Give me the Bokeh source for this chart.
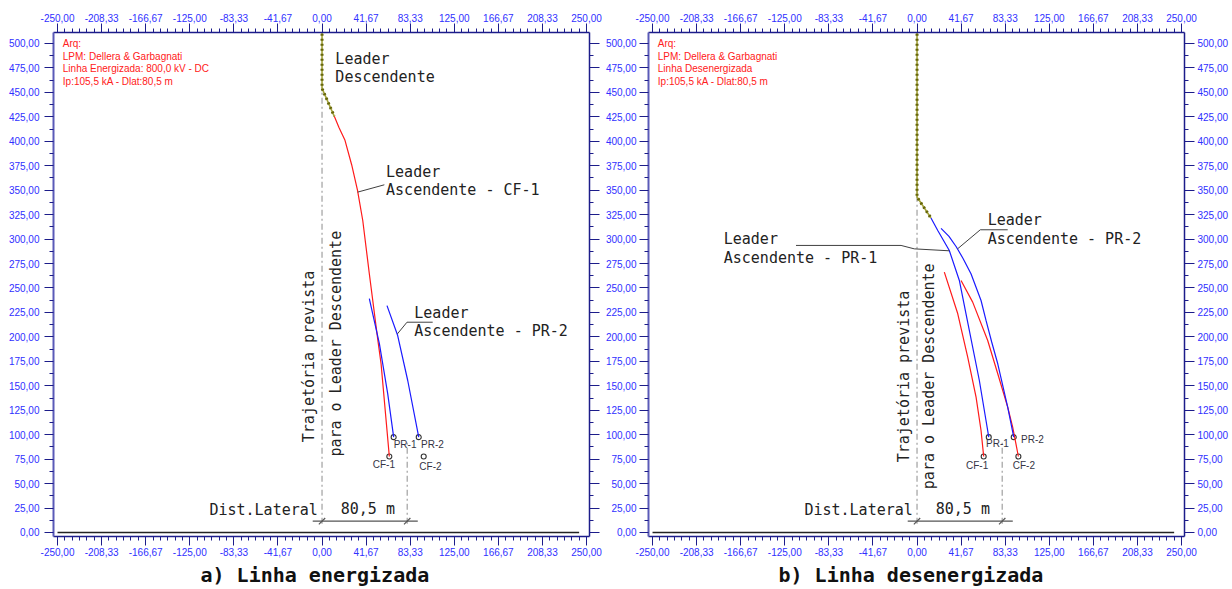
import numpy as np
from bokeh.plotting import figure
from bokeh.models import Range1d, LinearAxis, FixedTicker, Title
from bokeh.layouts import row
from bokeh.embed import file_html
from bokeh.resources import INLINE
from bokeh.core.properties import value

# ---------------- data ----------------
x_ticks = [-250.0, -208.33, -166.67, -125.0, -83.33, -41.67, 0.0,
           41.67, 83.33, 125.0, 166.67, 208.33, 250.0]
x_tick_labels = ["-250,00", "-208,33", "-166,67", "-125,00", "-83,33", "-41,67", "0,00",
                 "41,67", "83,33", "125,00", "166,67", "208,33", "250,00"]
y_ticks = [0, 25, 50, 75, 100, 125, 150, 175, 200, 225, 250, 275, 300, 325, 350,
           375, 400, 425, 450, 475, 500]
y_tick_labels = ["0,00", "25,00", "50,00", "75,00", "100,00", "125,00", "150,00", "175,00",
                 "200,00", "225,00", "250,00", "275,00", "300,00", "325,00", "350,00",
                 "375,00", "400,00", "425,00", "450,00", "475,00", "500,00"]

panel_titles = ["a) Linha energizada", "b) Linha desenergizada"]
info_a = ["Arq:", "LPM: Dellera & Garbagnati", "Linha Energizada: 800,0 kV - DC",
          "Ip:105,5 kA - Dlat:80,5 m"]
info_b = ["Arq:", "LPM: Dellera & Garbagnati", "Linha Desenergizada",
          "Ip:105,5 kA - Dlat:80,5 m"]

dlat = 80.5
ground_x = [-250.0, 243.0]
ground_y = [0.0, 0.0]

struct_names = ["CF-1", "PR-1", "PR-2", "CF-2"]
struct_a_x = [63.6, 67.7, 91.4, 96.1]
struct_a_y = [77.7, 97.5, 97.5, 77.7]
struct_b_x = [63.0, 67.8, 91.4, 95.8]
struct_b_y = [77.7, 97.5, 97.5, 77.7]

# descending leaders
desc_a_x = [0.0, 0.0, 11.6]
desc_a_y = [515.0, 454.0, 425.5]
desc_b_x = [0.0, 0.0, 13.2]
desc_b_y = [515.0, 343.0, 321.5]

# panel a: upward leaders
up_a_cf1_x = [11.6, 16.0, 21.7, 28.0, 33.5, 38.5, 44.7, 52.6, 55.8, 63.6]
up_a_cf1_y = [425.5, 414.0, 401.0, 376.0, 350.0, 319.0, 264.5, 198.0, 172.5, 77.7]
up_a_pr1_x = [44.7, 54.2, 62.1, 67.7]
up_a_pr1_y = [239.0, 193.0, 141.8, 97.5]
up_a_pr2_x = [61.4, 71.5, 81.0, 91.4]
up_a_pr2_y = [232.0, 201.4, 155.4, 97.5]

# panel b: upward leaders
up_b_pr1_x = [13.2, 19.6, 30.5, 40.0, 46.3, 58.9, 65.2, 67.8]
up_b_pr1_y = [321.5, 308.8, 288.3, 257.7, 223.6, 155.4, 114.5, 97.5]
up_b_pr2_x = [22.7, 30.2, 36.9, 43.5, 51.0, 60.5, 65.2, 70.5, 76.3, 85.7, 91.4]
up_b_pr2_y = [311.0, 302.7, 292.4, 280.2, 264.5, 237.2, 216.8, 195.0, 172.5, 128.1, 97.5]
up_b_cf1_x = [25.8, 38.5, 47.9, 55.8, 60.5, 63.0]
up_b_cf1_y = [266.2, 223.6, 179.3, 138.4, 104.3, 77.7]
up_b_cf2_x = [41.6, 52.6, 66.8, 76.3, 85.7, 90.4, 95.8]
up_b_cf2_y = [257.7, 235.5, 196.3, 162.3, 128.1, 107.7, 77.7]

# annotation texts
notes_a = ["Leader", "Descendente", "Leader", "Ascendente - CF-1", "Leader", "Ascendente - PR-2"]
notes_a_x = [12.6, 12.6, 60.5, 60.5, 87.2, 87.2]
notes_a_y = [484.4, 465.5, 368.4, 349.7, 224.6, 205.8]
notes_b = ["Leader", "Ascendente - PR-1", "Leader", "Ascendente - PR-2"]
notes_b_x = [-182.7, -182.7, 66.8, 66.8]
notes_b_y = [300.3, 280.9, 319.0, 299.6]

# pointer lines of the annotations
ptr_a = [([33.7, 58.9], [348.0, 355.5]), ([71.2, 80.3, 104.6], [203.0, 215.0, 215.0])]
ptr_b = [([-114.4, -15.1, -2.6, 30.5], [293.5, 293.5, 290.0, 288.0]),
         ([38.3, 59.8, 85.7], [290.0, 309.5, 309.5])]

rot_texts = ["Trajetória prevista", "para o Leader Descendente"]
rot_a_x = [-12.0, 13.2]
rot_a_y = [180.0, 193.0]
rot_b_x = [-12.0, 11.7]
rot_b_y = [159.5, 159.7]

dist_text = "Dist.Lateral"
dlat_text = "80,5 m"

# structure label offsets (px)
lab_dx_a = [-16.6, 0.0, 2.3, -4.4]
lab_dy_a = [8.0, 7.6, 7.6, 10.0]
lab_dx_b = [-17.7, -2.7, 7.3, -5.6]
lab_dy_b = [9.3, 6.6, 2.6, 9.3]

# ---------------- styling ----------------
MONO = "DejaVu Sans Mono"
SANS = "Liberation Sans"
AXIS_BLUE = "#3030ff"
NAVY = "#1c1c8a"
RED = "#ff1a1a"
BLUE = "#1a1aff"
DARK = "#222222"
GRAY = "#a0a0a0"

x_minor = []
for a, b in zip(x_ticks[:-1], x_ticks[1:]):
    x_minor += list(np.linspace(a, b, 7)[1:-1])
y_minor = [t + 12.5 for t in y_ticks[:-1]]


def make_panel(min_left, min_right, right_labels, title, title_offset, left_standoff):
    p = figure(frame_width=536, frame_height=504,
               x_range=Range1d(-253.8, 252.8), y_range=Range1d(-4.1, 511.2),
               output_backend="svg", toolbar_location=None,
               min_border_left=min_left, min_border_right=min_right,
               min_border_top=32, min_border_bottom=0,
               background_fill_color="white", border_fill_color="white",
               outline_line_color=None)
    p.xgrid.visible = False
    p.ygrid.visible = False
    p.add_layout(LinearAxis(), "above")
    p.add_layout(LinearAxis(), "right")
    xt = FixedTicker(ticks=x_ticks, minor_ticks=x_minor)
    yt = FixedTicker(ticks=y_ticks, minor_ticks=y_minor)
    for ax in p.xaxis:
        ax.ticker = xt
        ax.major_label_overrides = dict(zip(x_ticks, x_tick_labels))
        ax.major_label_standoff = 2
    for ax in p.yaxis:
        ax.ticker = yt
        ax.major_label_overrides = dict(zip(y_ticks, y_tick_labels))
    for ax in p.axis:
        ax.axis_line_color = NAVY
        ax.axis_line_width = 1.5
        ax.major_tick_line_color = NAVY
        ax.minor_tick_line_color = NAVY
        ax.major_tick_in = 0
        ax.minor_tick_in = 0
        ax.major_tick_out = 9
        ax.minor_tick_out = 4
        ax.major_label_text_font = SANS
        ax.major_label_text_font_size = "10px"
        ax.major_label_text_color = AXIS_BLUE
    p.left[0].major_label_standoff = left_standoff
    p.right[0].major_tick_out = 10
    p.right[0].major_label_standoff = 3
    p.left[0].axis_line_color = "#5a5ab8"
    p.left[0].axis_line_width = 2
    if not right_labels:
        p.right[0].major_label_overrides = {t: "" for t in y_ticks}
        p.right[0].major_label_standoff = 0
    p.add_layout(Title(text=title, align="left", text_font=MONO, text_font_size="20px",
                       text_font_style="bold", text_color="#111111", standoff=5,
                       offset=title_offset),
                 "below")
    return p


def draw_common(p, info, sx, sy, lab_dx, lab_dy):
    # ground and guide lines
    p.line(ground_x, ground_y, line_color=DARK, line_width=1.3)
    p.segment(x0=[0.0, dlat], y0=[9.0, 9.0], x1=[0.0, dlat], y1=[455.0, 93.0],
              line_color=GRAY, line_width=1.2, line_dash="6 3 2 3")
    # dimension line
    p.line([-8.8, dlat + 10.0], [11.6, 11.6], line_color="#555555", line_width=1.2)
    p.scatter([0.0, dlat], [11.6, 11.6], marker="dash", size=9, angle=np.pi / 4,
              line_color="#555555", line_width=1.2)
    p.text([-4.0], [22.5], text=[dist_text], text_font=value(MONO), text_font_size="15px",
           text_align="right", text_baseline="middle", text_color=DARK)
    p.text([43.3], [24.5], text=[dlat_text], text_font=value(MONO), text_font_size="15px",
           text_align="center", text_baseline="middle", text_color=DARK)
    # info block
    p.text([-245.0] * len(info), [500.0, 487.0, 474.0, 461.0][:len(info)], text=info,
           text_font=value(SANS), text_font_size="10px", text_baseline="middle",
           text_color="#ff2020")
    # structures
    p.scatter(sx, sy, marker="circle", size=5, line_color="#333333", fill_color="white",
              line_width=1.1)
    for name, x, y, dx, dy in zip(struct_names, sx, sy, lab_dx, lab_dy):
        p.text([x], [y], text=[name], x_offset=dx, y_offset=dy, text_font=value(SANS),
               text_font_size="10px", text_baseline="middle", text_color="#353545")


def draw_desc(p, xs, ys):
    p.line(xs, ys, line_color="#a3a33a", line_width=1.6)
    p.line(xs, ys, line_color="#66660a", line_width=3, line_dash="2 3")


# ---------------- panel a ----------------
pa = make_panel(53, 13, False, panel_titles[0], 147, 5)
draw_common(pa, info_a, struct_a_x, struct_a_y, lab_dx_a, lab_dy_a)
pa.line(up_a_cf1_x, up_a_cf1_y, line_color=RED, line_width=1.2)
pa.line(up_a_pr1_x, up_a_pr1_y, line_color=BLUE, line_width=1.2)
pa.line(up_a_pr2_x, up_a_pr2_y, line_color=BLUE, line_width=1.2)
draw_desc(pa, desc_a_x, desc_a_y)
for xs, ys in ptr_a:
    pa.line(xs, ys, line_color="#404040", line_width=1)
pa.text(notes_a_x, notes_a_y, text=notes_a, text_font=value(MONO), text_font_size="15px",
        text_baseline="middle", text_color=DARK)
pa.text(rot_a_x, rot_a_y, text=rot_texts, angle=np.pi / 2, text_font=value(MONO),
        text_font_size="15px", text_align="center", text_baseline="middle", text_color=DARK)

# ---------------- panel b ----------------
pb = make_panel(45, 20, True, panel_titles[1], 130, 3)
draw_common(pb, info_b, struct_b_x, struct_b_y, lab_dx_b, lab_dy_b)
pb.line(up_b_cf1_x, up_b_cf1_y, line_color=RED, line_width=1.2)
pb.line(up_b_cf2_x, up_b_cf2_y, line_color=RED, line_width=1.2)
pb.line(up_b_pr1_x, up_b_pr1_y, line_color=BLUE, line_width=1.2)
pb.line(up_b_pr2_x, up_b_pr2_y, line_color=BLUE, line_width=1.2)
draw_desc(pb, desc_b_x, desc_b_y)
for xs, ys in ptr_b:
    pb.line(xs, ys, line_color="#404040", line_width=1)
pb.text(notes_b_x, notes_b_y, text=notes_b, text_font=value(MONO), text_font_size="15px",
        text_baseline="middle", text_color=DARK)
pb.text(rot_b_x, rot_b_y, text=rot_texts, angle=np.pi / 2, text_font=value(MONO),
        text_font_size="15px", text_align="center", text_baseline="middle", text_color=DARK)

layout = row(pa, pb)
open("out.html", "w").write(file_html(layout, INLINE))
